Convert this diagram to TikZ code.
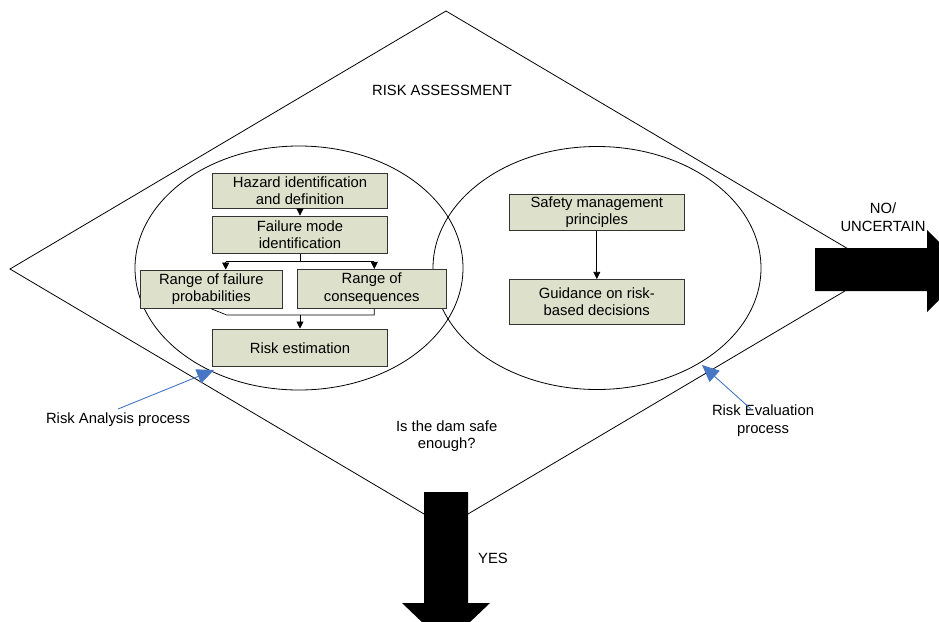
\documentclass[tikz,border=0pt]{standalone}
\usepackage{fontspec}
\setmainfont{Liberation Sans}
\usetikzlibrary{shapes.geometric,arrows.meta}
\definecolor{boxfill}{RGB}{221,224,202}
\definecolor{bluearr}{RGB}{70,118,196}
\newcommand\figfont{\fontsize{14.8}{17.6}\selectfont}
\begin{document}
\begin{tikzpicture}[x=1pt,y=-1pt,
  every node/.style={font=\figfont, inner sep=0pt},
  procbox/.style={draw=black!80, line width=0.9pt, fill=boxfill, align=center, rectangle},
  conn/.style={line width=0.7pt, -{Triangle[length=7pt,width=7pt]}},
  plain/.style={line width=0.7pt},
  bigarrow/.style={fill=black, draw=none},
  bluelink/.style={draw=bluearr, line width=0.9pt, -{Triangle[length=17pt,width=15pt]}},
  circ/.style={draw=black, line width=0.8pt, ellipse, fill=none}]
\useasboundingbox (0,0) rectangle (939,621);
\clip (0,0) rectangle (939,621);
% diamond
\coordinate (dt) at (446,11);
\coordinate (dr) at (882,269);
\coordinate (db) at (446,527);
\coordinate (dl) at (10,269);
\draw[line width=0.8pt] (dt) -- (dr) -- (db) -- (dl) -- cycle;
% ellipses
\node[circ, minimum width=328pt, minimum height=244pt] (lell) at (299,268) {};
\node[circ, minimum width=328pt, minimum height=243pt] (rell) at (597,268) {};
% boxes
\node[procbox, minimum width=174.6pt, minimum height=35pt] (haz) at (300,190.8) {Hazard identification\\and definition};
\node[procbox, minimum width=174.6pt, minimum height=37.3pt] (fail) at (300,234.7) {Failure mode\\identification};
\node[procbox, minimum width=142.7pt, minimum height=38.3pt] (rfp) at (211.3,289.2) {Range of failure\\probabilities};
\node[procbox, minimum width=148.7pt, minimum height=38.7pt] (rc) at (371.7,288.7) {Range of\\consequences};
\node[procbox, minimum width=174.6pt, minimum height=37.7pt] (rest) at (300,347.8) {Risk estimation};
\node[procbox, minimum width=175pt, minimum height=35.7pt] (safe) at (596.8,212.2) {Safety management\\principles};
\node[procbox, minimum width=175pt, minimum height=44.7pt] (guid) at (596.8,301.7) {Guidance on risk-\\based decisions};
% connectors
\draw[conn] (haz.south) -- (fail.north);
\coordinate (sl) at (225.7,261.7);
\coordinate (sr) at (374.3,261.7);
\draw[plain] (fail.south) -- (fail.south |- sl);
\draw[plain] (sl) -- (sr);
\draw[conn] (sl) -- (sl |- rfp.north);
\draw[conn] (sr) -- (sr |- rc.north);
\coordinate (ml) at (226.7,315);
\coordinate (mr) at (374.3,315);
\draw[plain] (rfp.south) -- (ml) -- (mr) -- (mr |- rc.south);
\draw[conn] (rest.north |- ml) -- (rest.north);
\draw[conn] (safe.south) -- (guid.north);
% big arrows
\fill[bigarrow] (424,492) -- (468,492) -- (468,603) -- (490,603) -- (446,645) -- (402,603) -- (424,603) -- cycle;
\fill[bigarrow] (815,248) -- (927,248) -- (927,230) -- (968,271) -- (927,312) -- (927,291) -- (815,291) -- cycle;
% labels
\node (title) at (442,90) {RISK ASSESSMENT};
\node[align=center] (nou) at (883,217) {NO/\\UNCERTAIN};
\node[align=center] (q) at (446.7,436) {Is the dam safe\\enough?};
\node (yes) at (493,558) {YES};
\node (ra) at (118,420) {Risk Analysis process};
\node[align=center] (re) at (763,420.5) {Risk Evaluation\\process};
% blue arrows
\coordinate (ratip) at (214,370);
\coordinate (retip) at (702,365);
\draw[bluelink] (118,409) -- (ratip);
\draw[bluelink] (752,410) -- (retip);
\end{tikzpicture}
\end{document}
